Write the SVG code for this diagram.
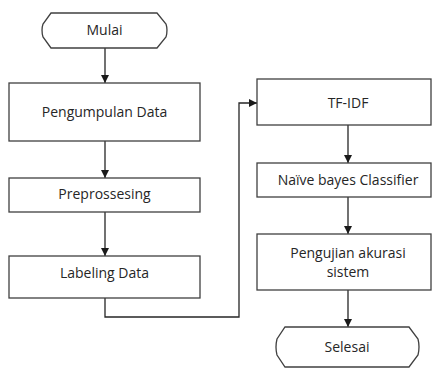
<svg xmlns="http://www.w3.org/2000/svg" width="432" height="371" viewBox="0 0 432 371">
<style>
.box{fill:#ffffff;stroke:#404040;stroke-width:1.3}
.lbl{font-family:"Open Sans","Liberation Sans",sans-serif;font-size:14px;fill:#262626;text-anchor:middle}
.con{fill:none;stroke:#262626;stroke-width:1.3}
</style>
<defs>
<marker id="arr" markerUnits="userSpaceOnUse" markerWidth="9" markerHeight="9" refX="8" refY="4" orient="auto">
<path d="M0,0 L8,4 L0,8 z" fill="#1a1a1a"/>
</marker>
</defs>
<rect width="432" height="371" fill="#ffffff"/>
<g id="connectors">
<path class="con" d="M105,48 V83" marker-end="url(#arr)"/>
<path class="con" d="M105,141 V178" marker-end="url(#arr)"/>
<path class="con" d="M105,212 V256" marker-end="url(#arr)"/>
<path class="con" d="M105,298 V317 H239 V103 H257" marker-end="url(#arr)"/>
<path class="con" d="M348,125 V163" marker-end="url(#arr)"/>
<path class="con" d="M348,197 V234" marker-end="url(#arr)"/>
<path class="con" d="M348,290 V327" marker-end="url(#arr)"/>
</g>
<g id="mulai">
<path class="box" d="M51,13 H157 L166,24 Q168,30 166,37 L157,48 H51 L43,37 Q41,30 43,24 Z"/>
<text class="lbl" x="104.5" y="35">Mulai</text>
</g>
<g id="pengumpulan">
<rect class="box" x="9" y="83" width="191" height="58"/>
<text class="lbl" x="104.5" y="117">Pengumpulan Data</text>
</g>
<g id="preprossesing">
<rect class="box" x="9" y="178" width="191" height="34"/>
<text class="lbl" x="104.5" y="199">Preprossesing</text>
</g>
<g id="labeling">
<rect class="box" x="9" y="256" width="191" height="42"/>
<text class="lbl" x="104.5" y="278">Labeling Data</text>
</g>
<g id="tfidf">
<rect class="box" x="257" y="79" width="174" height="46"/>
<text class="lbl" x="348" y="108">TF-IDF</text>
</g>
<g id="naive">
<rect class="box" x="257" y="163" width="174" height="34"/>
<text class="lbl" x="348" y="185">Naïve bayes Classifier</text>
</g>
<g id="pengujian">
<rect class="box" x="257" y="234" width="174" height="56"/>
<text class="lbl" x="348" y="258">Pengujian akurasi</text>
<text class="lbl" x="348" y="277">sistem</text>
</g>
<g id="selesai">
<path class="box" d="M285,327 H409 L418,339 Q420,347 418,355 L409,367 H285 L277,355 Q275,347 277,339 Z"/>
<text class="lbl" x="347" y="352">Selesai</text>
</g>
</svg>
